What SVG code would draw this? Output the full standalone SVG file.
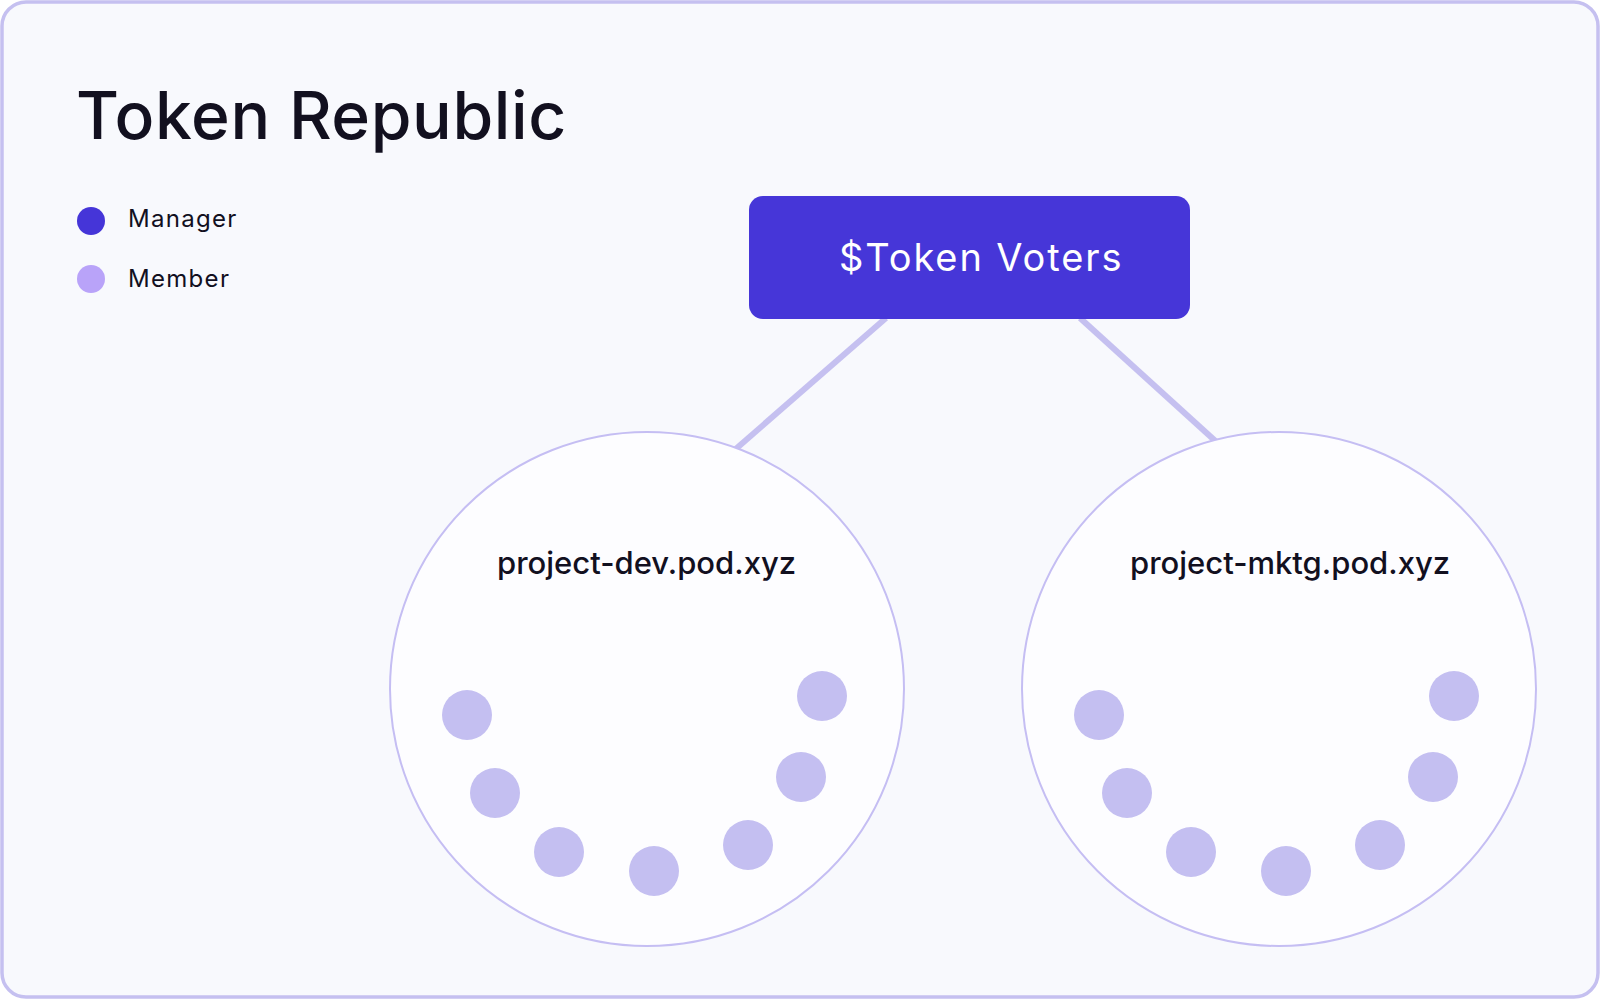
<svg xmlns="http://www.w3.org/2000/svg" width="1602" height="1000" viewBox="0 0 1602 1000">
  <style>
    .txt { font-family: Inter, "Noto Sans", "Liberation Sans", sans-serif; fill: #12101F; }
    .title { font-size: 66px; font-weight: 500; letter-spacing: 0.6px; }
    .legend { font-size: 24px; letter-spacing: 1.3px; }
    .label { font-size: 31px; font-weight: 500; }
    .voters { font-size: 38px; fill: #FFFFFF; letter-spacing: 1.9px; }
    .pod { fill: #FDFDFF; stroke: #C5BEF3; stroke-width: 2; }
    .member { fill: #C4BFF1; }
    .conn { stroke: #C5C0F0; stroke-width: 6; fill: none; }
  </style>
  <rect x="0" y="0" width="1602" height="1000" fill="#FFFFFF"/>
  <rect id="frame" x="2" y="2" width="1596" height="995" rx="24" ry="24" fill="#F8F9FD" stroke="#C5C0F0" stroke-width="3.5"/>
  <text class="txt title" x="76" y="139">Token Republic</text>
  <g id="legend">
    <circle cx="91" cy="221" r="14" fill="#4535D8"/>
    <text class="txt legend" x="128" y="227">Manager</text>
    <circle cx="91" cy="279" r="14" fill="#B9A3F9"/>
    <text class="txt legend" x="128" y="287">Member</text>
  </g>
  <g id="connectors">
    <line class="conn" x1="886" y1="318" x2="730" y2="454"/>
    <line class="conn" x1="1080" y1="318" x2="1222" y2="447"/>
  </g>
  <g id="token-voters">
    <rect x="749" y="196" width="441" height="123" rx="14" ry="14" fill="#4636D8"/>
    <text class="txt voters" x="839" y="271">$Token Voters</text>
  </g>
  <g id="pod-dev">
    <circle class="pod" cx="647" cy="689" r="257"/>
    <text class="txt label" x="497" y="574">project-dev.pod.xyz</text>
    <circle class="member" cx="467" cy="715" r="25"/>
    <circle class="member" cx="495" cy="793" r="25"/>
    <circle class="member" cx="559" cy="852" r="25"/>
    <circle class="member" cx="654" cy="871" r="25"/>
    <circle class="member" cx="748" cy="845" r="25"/>
    <circle class="member" cx="801" cy="777" r="25"/>
    <circle class="member" cx="822" cy="696" r="25"/>
  </g>
  <g id="pod-mktg">
    <circle class="pod" cx="1279" cy="689" r="257"/>
    <text class="txt label" x="1130" y="574">project-mktg.pod.xyz</text>
    <circle class="member" cx="1099" cy="715" r="25"/>
    <circle class="member" cx="1127" cy="793" r="25"/>
    <circle class="member" cx="1191" cy="852" r="25"/>
    <circle class="member" cx="1286" cy="871" r="25"/>
    <circle class="member" cx="1380" cy="845" r="25"/>
    <circle class="member" cx="1433" cy="777" r="25"/>
    <circle class="member" cx="1454" cy="696" r="25"/>
  </g>
</svg>
